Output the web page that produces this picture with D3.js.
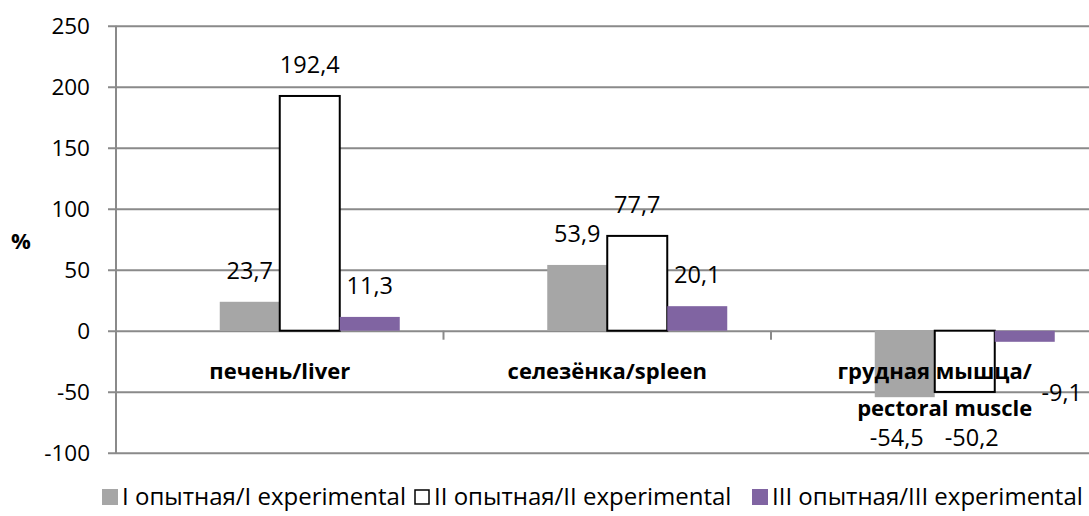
<!DOCTYPE html>
<html>
<head>
<meta charset="utf-8">
<script src="https://cdn.jsdelivr.net/npm/d3@7/dist/d3.min.js"></script>
<style>
    body { margin: 0; background: #fff; }
    svg text { font-family: "Open Sans", sans-serif; fill: #000; }
    .cat { font-weight: bold; }
</style>
</head>
<body>
<svg id="chart" width="1089" height="516"></svg>
<script>
const categories = [["печень/liver"], ["селезёнка/spleen"], ["грудная мышца/", "pectoral muscle"]];
const seriesNames = ["I опытная/I experimental", "II опытная/II experimental", "III опытная/III experimental"];
const series1 = [23.7, 53.9, -54.5];
const series2 = [192.4, 77.7, -50.2];
const series3 = [11.3, 20.1, -9.1];
const yTicks = [-100, -50, 0, 50, 100, 150, 200, 250];

const colors = ["#a6a6a6", "#ffffff", "#8064a2"];
const allSeries = [series1, series2, series3];

const plotLeft = 116, plotRight = 1098.5, plotTop = 25.7, plotBottom = 452.7;

const svg = d3.select("#chart");

// scales
const x0 = d3.scaleBand()
    .domain(d3.range(categories.length))
    .range([plotLeft, plotRight]);

const bw = x0.bandwidth();
// bars sit a half-slot right of the band centre, like the original
const x1 = d3.scaleBand()
    .domain(d3.range(seriesNames.length))
    .range([bw / 2 - 60, bw / 2 + 120]);

const y = d3.scaleLinear()
    .domain([-100, 250])
    .range([plotBottom, plotTop]);

// gridlines + y axis
const yAxis = d3.axisLeft(y)
    .tickValues(yTicks)
    .tickSize(-(plotRight - plotLeft + 8))
    .tickPadding(18)
    .tickFormat(d => d);

const gy = svg.append("g")
    .attr("transform", "translate(" + (plotLeft - 8) + ",0)")
    .call(yAxis);
gy.select(".domain").remove();
gy.selectAll(".tick line")
    .attr("stroke", "#8a8a8a")
    .attr("stroke-width", 2);
gy.selectAll(".tick text")
    .attr("font-size", 22.5)
    .attr("font-family", "Open Sans")
    .attr("fill", "#000")
    .attr("dy", "0.35em");

// vertical axis line
svg.append("line")
    .attr("x1", plotLeft).attr("x2", plotLeft)
    .attr("y1", plotTop).attr("y2", plotBottom + 1)
    .attr("stroke", "#8a8a8a")
    .attr("stroke-width", 2);

// category ticks on zero line
svg.append("g")
    .selectAll("line")
    .data(d3.range(1, categories.length))
    .enter().append("line")
    .attr("x1", d => x0(d)).attr("x2", d => x0(d))
    .attr("y1", y(0)).attr("y2", y(0) + 9)
    .attr("stroke", "#8a8a8a")
    .attr("stroke-width", 2);

// bars
const groups = svg.append("g")
    .selectAll("g")
    .data(categories)
    .enter().append("g")
    .attr("transform", (d, i) => "translate(" + x0(i) + ",0)");

groups.selectAll("rect")
    .data((d, i) => allSeries.map((s, j) => ({ j: j, v: s[i] })))
    .enter().append("rect")
    .attr("x", d => x1(d.j))
    .attr("width", x1.bandwidth())
    .attr("y", d => y(Math.max(0, d.v)))
    .attr("height", d => Math.abs(y(d.v) - y(0)))
    .attr("fill", d => colors[d.j])
    .attr("stroke", d => d.j === 1 ? "#000" : "none")
    .attr("stroke-width", 2);

// category labels
groups.each(function (d) {
    const t = d3.select(this).append("text")
        .attr("class", "cat")
        .attr("text-anchor", "middle")
        .attr("font-size", 22)
        .attr("x", bw / 2)
        .attr("y", 371);
    d.forEach((line, k) => {
        t.append("tspan")
            .attr("x", bw / 2 + (k === 0 ? 0 : 10))
            .attr("dy", k === 0 ? "0.35em" : "1.7em")
            .text(line);
    });
});

// data labels (negative ones were nudged by hand in the original)
const negNudge = [[-8, 41], [7, 46], [37, 51]];
groups.selectAll(".lbl")
    .data((d, i) => allSeries.map((s, j) => ({ j: j, v: s[i] })))
    .enter().append("text")
    .attr("class", "lbl")
    .attr("text-anchor", "middle")
    .attr("font-size", 23.5)
    .attr("dy", "0.35em")
    .attr("x", d => x1(d.j) + x1.bandwidth() / 2 + (d.v < 0 ? negNudge[d.j][0] : 0))
    .attr("y", d => d.v >= 0 ? y(d.v) - 31 : y(d.v) + negNudge[d.j][1])
    .text(d => d3.format(".1f")(d.v).replace(".", ",").replace("\u2212", "-"));

// y title
svg.append("text")
    .attr("x", 21)
    .attr("y", 241)
    .attr("dy", "0.35em")
    .attr("text-anchor", "middle")
    .attr("font-weight", "bold")
    .attr("font-size", 22)
    .text("%");

// legend
const legendX = [102, 414, 752];
const legend = svg.append("g")
    .selectAll("g")
    .data(seriesNames)
    .enter().append("g")
    .attr("transform", (d, i) => "translate(" + legendX[i] + ",497)");

legend.append("rect")
    .attr("x", (d, i) => i === 1 ? 1 : 0)
    .attr("y", (d, i) => i === 1 ? -7 : -8)
    .attr("width", (d, i) => i === 1 ? 14 : 16)
    .attr("height", (d, i) => i === 1 ? 14 : 16)
    .attr("fill", (d, i) => colors[i])
    .attr("stroke", (d, i) => i === 1 ? "#000" : "none")
    .attr("stroke-width", 1.5);

legend.append("text")
    .attr("x", 20)
    .attr("dy", "0.35em")
    .attr("font-size", 24)
    .text(d => d);
</script>
</body>
</html>
